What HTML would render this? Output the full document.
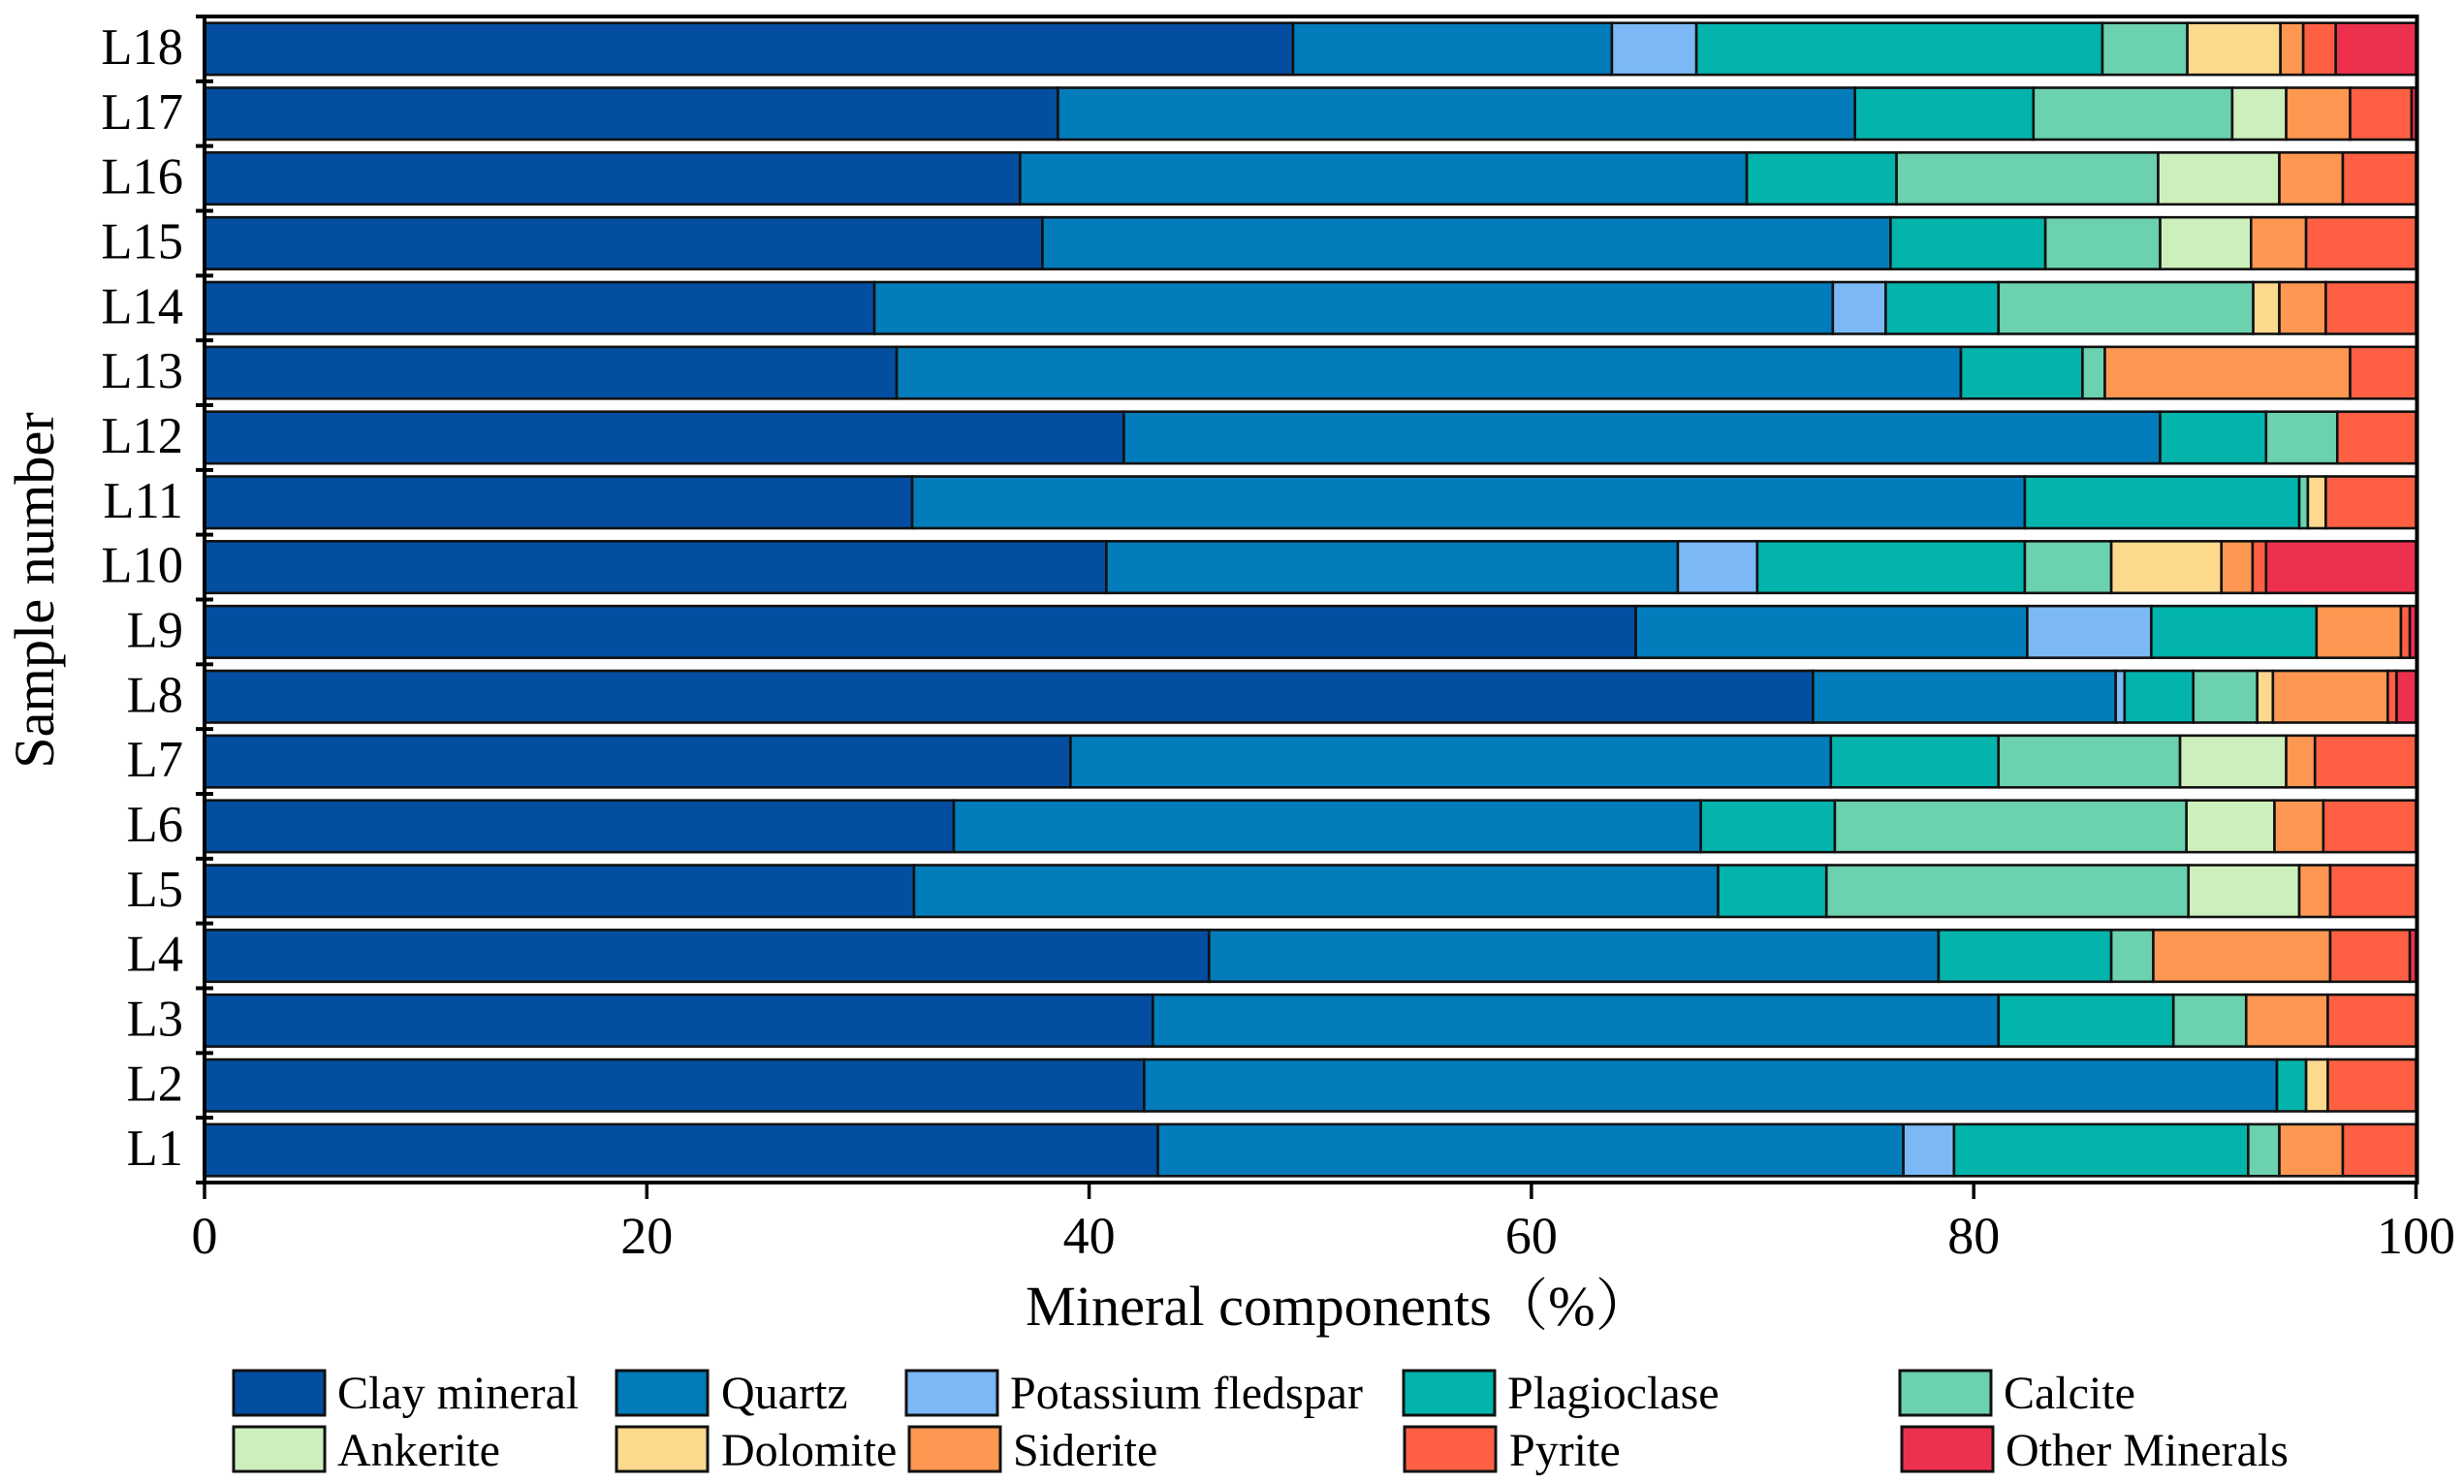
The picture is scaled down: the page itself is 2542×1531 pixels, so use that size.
<!DOCTYPE html>
<html lang="en">
<head>
<meta charset="utf-8">
<title>Mineral components by sample</title>
<style>
html,body{margin:0;padding:0;background:#fff;}
svg{display:block;}
text{font-family:"Liberation Serif","Noto Serif CJK SC",serif;fill:#000;}
.tick{font-size:54px;}
.ytick{font-size:52.5px;}
.title{font-size:58.3px;}
.leg{font-size:48px;}
.sw{stroke:#111;stroke-width:3;}
</style>
</head>
<body>
<svg id="chart" xmlns="http://www.w3.org/2000/svg" width="2542" height="1531" viewBox="0 0 2542 1531">
  <rect x="0" y="0" width="2542" height="1531" fill="#ffffff"/>
  <g id="bars"></g>
  <g id="axes"></g>
  <text class="title" x="1058" y="1367">Mineral components（%）</text>
  <text class="title" text-anchor="middle" transform="translate(55 609) rotate(-90)">Sample number</text>
  <g>
    <g><rect class="sw" x="241" y="1414" width="94" height="46" fill="#034ea0"/><text class="leg" x="348" y="1453">Clay mineral</text></g>
    <g><rect class="sw" x="636" y="1414" width="94" height="46" fill="#027cba"/><text class="leg" x="744" y="1453">Quartz</text></g>
    <g><rect class="sw" x="935" y="1414" width="94" height="46" fill="#7bb8f5"/><text class="leg" x="1042" y="1453">Potassium fledspar</text></g>
    <g><rect class="sw" x="1448" y="1414" width="94" height="46" fill="#02b4ab"/><text class="leg" x="1555" y="1453">Plagioclase</text></g>
    <g><rect class="sw" x="1960" y="1414" width="94" height="46" fill="#6bd1ae"/><text class="leg" x="2067" y="1453">Calcite</text></g>
    <g><rect class="sw" x="241" y="1472" width="94" height="46" fill="#cdefbb"/><text class="leg" x="348" y="1512">Ankerite</text></g>
    <g><rect class="sw" x="636" y="1472" width="94" height="46" fill="#fdd98e"/><text class="leg" x="744" y="1512">Dolomite</text></g>
    <g><rect class="sw" x="938" y="1472" width="94" height="46" fill="#fe9751"/><text class="leg" x="1045" y="1512">Siderite</text></g>
    <g><rect class="sw" x="1449" y="1472" width="94" height="46" fill="#ff6043"/><text class="leg" x="1557" y="1512">Pyrite</text></g>
    <g><rect class="sw" x="1962" y="1472" width="94" height="46" fill="#ee304f"/><text class="leg" x="2069" y="1512">Other Minerals</text></g>
  </g>
</svg>
<script>
const samples = ["L1","L2","L3","L4","L5","L6","L7","L8","L9","L10","L11","L12","L13","L14","L15","L16","L17","L18"];
const xTicks = [0,20,40,60,80,100];
const clayMineral = [43.11,42.49,42.88,45.42,32.08,33.88,39.16,72.73,64.72,40.78,32.00,41.57,31.30,30.29,37.89,36.88,38.59,49.22];
const quartz = [33.71,51.22,38.24,32.99,36.36,33.78,34.38,13.69,17.70,25.84,50.31,46.86,48.12,43.34,38.35,32.86,36.04,14.42];
const potassiumFeldspar = [2.29,0,0,0,0,0,0,0.40,5.61,3.59,0,0,0,2.39,0,0,0,3.82];
const plagioclase = [13.30,1.32,7.91,7.81,4.90,6.06,7.58,3.11,7.47,12.10,12.41,4.79,5.50,5.10,7.00,6.77,8.07,18.36];
const calcite = [1.41,0,3.29,1.90,16.37,15.90,8.21,2.89,0,3.91,0.39,3.22,1.01,11.52,5.19,11.83,8.99,3.84];
const ankerite = [0,0,0,0,5.01,3.98,4.80,0,0,0,0,0,0,0,4.11,5.48,2.44,0];
const dolomite = [0,0.98,0,0,0,0,0,0.71,0,4.98,0.81,0,0,1.18,0,0,0,4.21];
const siderite = [2.87,0,3.69,8.00,1.40,2.21,1.30,5.19,3.82,1.41,0,0,11.09,2.10,2.49,2.87,2.89,1.03];
const pyrite = [3.31,3.99,3.99,3.60,3.88,4.19,4.57,0.40,0.40,0.61,4.08,3.56,2.98,4.08,4.97,3.31,2.78,1.47];
const otherMinerals = [0,0,0,0.28,0,0,0,0.88,0.28,6.78,0,0,0,0,0,0,0.20,3.63];

const seriesNames = ["clay-mineral","quartz","potassium-fledspar","plagioclase","calcite","ankerite","dolomite","siderite","pyrite","other-minerals"];
const seriesValues = [clayMineral,quartz,potassiumFeldspar,plagioclase,calcite,ankerite,dolomite,siderite,pyrite,otherMinerals];
const seriesColors = ["#034ea0","#027cba","#7bb8f5","#02b4ab","#6bd1ae","#cdefbb","#fdd98e","#fe9751","#ff6043","#ee304f"];

const NS = "http://www.w3.org/2000/svg";
const plotLeft = 211, plotRight = 2492.5, plotTop = 17, plotBottom = 1220;
const band = (plotBottom - plotTop) / samples.length;
const barHeight = band * 0.8;
function xScale(v){ return plotLeft + (plotRight - plotLeft) * v / 100; }
function yScale(i){ return plotBottom - band * (i + 0.5); }
function mk(tag, attrs, parent){
  const el = document.createElementNS(NS, tag);
  for (const k in attrs) el.setAttribute(k, attrs[k]);
  parent.appendChild(el);
  return el;
}
const barsG = document.getElementById("bars");
const axesG = document.getElementById("axes");

samples.forEach(function(sample, i){
  let cum = 0;
  seriesValues.forEach(function(vals, s){
    const v = vals[i];
    if (v > 0) {
      const r = mk("rect", {x: xScale(cum), y: yScale(i) - barHeight / 2, width: xScale(cum + v) - xScale(cum), height: barHeight, fill: seriesColors[s], stroke: "#111", "stroke-width": 2.6}, barsG);
      
      
    }
    cum += v;
  });
});

const topSpine = mk("line", {x1: 202, x2: 2495.5, y1: plotTop, y2: plotTop, stroke: "#000", "stroke-width": 4}, axesG);


const bottomSpine = mk("line", {x1: 202, x2: 2495.5, y1: plotBottom, y2: plotBottom, stroke: "#000", "stroke-width": 4}, axesG);


const leftSpine = mk("line", {x1: plotLeft, x2: plotLeft, y1: plotTop, y2: plotBottom, stroke: "#000", "stroke-width": 4}, axesG);


const rightSpine = mk("line", {x1: 2493.5, x2: 2493.5, y1: plotTop - 2, y2: plotBottom, stroke: "#000", "stroke-width": 4}, axesG);



for (let t = 0; t <= samples.length; t++) {
  const yy = plotBottom - band * t;
  const tk = mk("line", {x1: 202, x2: 220, y1: yy, y2: yy, stroke: "#000", "stroke-width": 4}, axesG);
  
  
}
samples.forEach(function(sample, i){
  const lb = mk("text", {class: "ytick", x: 189, y: yScale(i) + 15.5, "text-anchor": "end"}, axesG);
  lb.textContent = sample;
  
  
});
xTicks.forEach(function(v){
  const tk = mk("line", {x1: xScale(v), x2: xScale(v), y1: plotBottom, y2: 1237, stroke: "#000", "stroke-width": 3.5}, axesG);
  
  
  const lb = mk("text", {class: "tick", x: xScale(v), y: 1293, "text-anchor": "middle"}, axesG);
  lb.textContent = String(v);
  
  
});
</script>
</body>
</html>
